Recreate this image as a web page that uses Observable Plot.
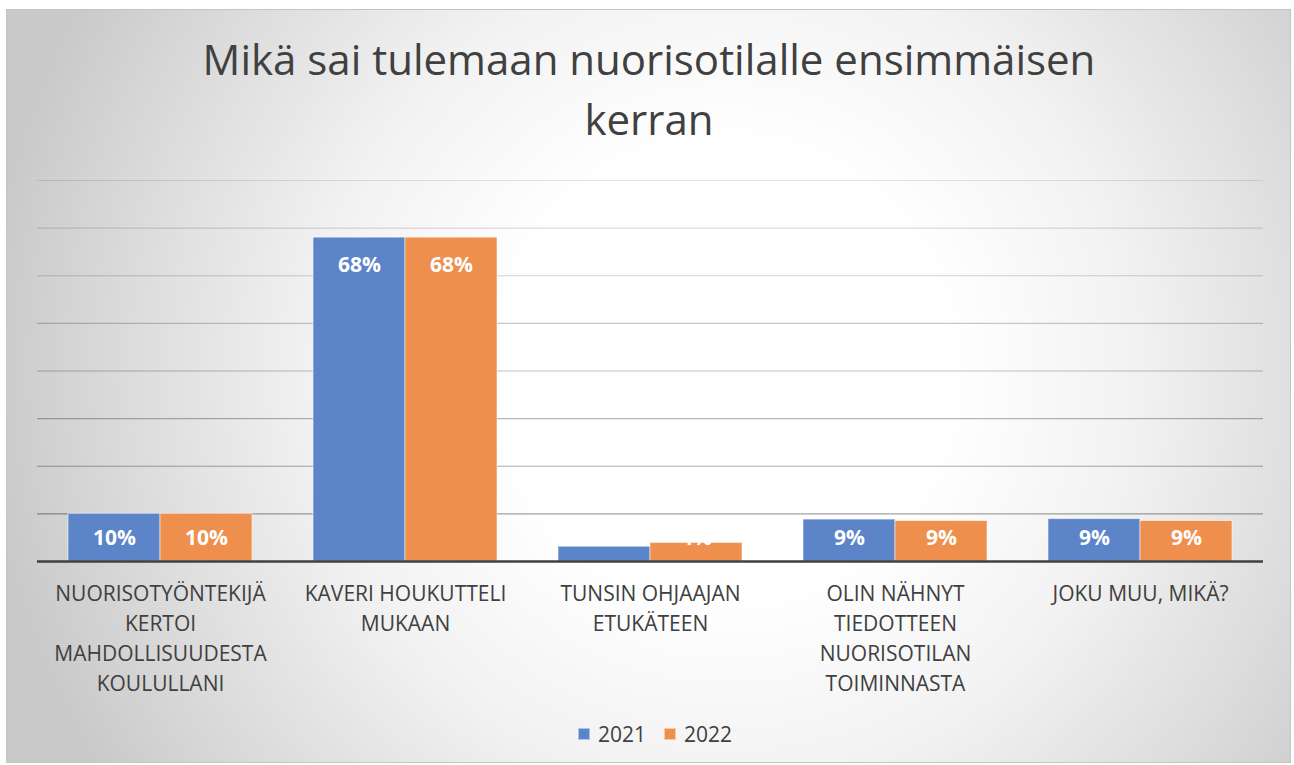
<!DOCTYPE html>
<html>
<head>
<meta charset="utf-8">
<script src="https://cdn.jsdelivr.net/npm/d3@7"></script>
<script src="https://cdn.jsdelivr.net/npm/@observablehq/plot@0.6"></script>
<style>
  html, body { margin: 0; padding: 0; }
  body { width: 1294px; height: 765px; position: relative; overflow: hidden; background: #ffffff; font-family: "Open Sans", sans-serif; }
  #frame { position: absolute; left: 6px; top: 9px; width: 1285px; height: 754px; box-sizing: border-box; border: 1px solid #c4c4c4;
    background: radial-gradient(ellipse 58% 100% at 56% 48%, #ffffff 0%, #ffffff 30%, #f2f2f2 55%, #dcdcdc 80%, #c9c9c9 100%); }
  #title { position: absolute; left: 2px; top: 29px; width: 1294px; text-align: center; font-size: 42px; line-height: 60px; color: #404040; }
  .layer { position: absolute; left: 0; top: 150px; }
  #legend { position: absolute; left: 8px; top: 720px; width: 1294px; height: 28px; display: flex; justify-content: center; align-items: center; font-size: 21px; color: #404040; }
  .item { display: flex; align-items: center; margin: 0 9px; }
  .sw { width: 12px; height: 12px; margin-right: 8px; box-sizing: border-box; border: 1px solid rgba(255,255,255,0.5); }
</style>
</head>
<body>
<div id="frame"></div>
<div id="title">Mikä sai tulemaan nuorisotilalle ensimmäisen<br>kerran</div>
<div id="grid" class="layer"></div>
<div id="chart" class="layer"></div>
<div id="legend"></div>
<script>
const categories = [
  "Nuorisotyöntekijä kertoi mahdollisuudesta koulullani",
  "Kaveri houkutteli mukaan",
  "Tunsin ohjaajan etukäteen",
  "Olin nähnyt tiedotteen nuorisotilan toiminnasta",
  "Joku muu, mikä?"
];
const categoryLabels = [
  "NUORISOTYÖNTEKIJÄ\nKERTOI\nMAHDOLLISUUDESTA\nKOULULLANI",
  "KAVERI HOUKUTTELI\nMUKAAN",
  "TUNSIN OHJAAJAN\nETUKÄTEEN",
  "OLIN NÄHNYT\nTIEDOTTEEN\nNUORISOTILAN\nTOIMINNASTA",
  "JOKU MUU, MIKÄ?"
];
const years = ["2021", "2022"];
const values2021 = [10, 68, 3.1, 8.8, 8.9];
const values2022 = [10, 68, 3.9, 8.5, 8.5];
const colors = ["#5b84c9", "#ee8f4e"];
const gridTicks = [10, 20, 30, 40, 50, 60, 70, 80];

const data = [];
categories.forEach((c, i) => {
  data.push({category: c, year: years[0], value: values2021[i]});
  data.push({category: c, year: years[1], value: values2022[i]});
});
const labelRows = categories.map((c, i) => ({category: c, label: categoryLabels[i]}));

const common = {
  width: 1294,
  height: 560,
  marginLeft: 37,
  marginRight: 31,
  marginTop: 30,
  marginBottom: 149,
  style: {background: "transparent", fontFamily: "Open Sans, sans-serif", overflow: "visible"},
  y: {domain: [0, 80], axis: null}
};

// Gridlines layer (no facets), same y scale and margins
const grid = Plot.plot({
  ...common,
  opacity: {domain: [0, 80], range: [0.4, 0.1]},
  marks: [
    Plot.ruleY(gridTicks, {y: d => d, stroke: "#000", strokeOpacity: d => d, strokeWidth: 1.2})
  ]
});
document.getElementById("grid").appendChild(grid);

// Bars layer (faceted by category)
const chart = Plot.plot({
  ...common,
  fx: {domain: categories, paddingInner: 0.25, paddingOuter: 0.125, axis: null, label: null},
  x: {domain: years, padding: 0, axis: null},
  color: {domain: years, range: colors},
  marks: [
    Plot.barY(data, {fx: "category", x: "year", y: "value", fill: "year", stroke: "#ffffff", strokeOpacity: 0.55, strokeWidth: 1}),
    Plot.text(data, {fx: "category", x: "year", y: d => Math.max(d.value - 5.8, 4.9), text: d => Math.round(d.value) + "%",
      fill: "#ffffff", fontSize: 21, fontWeight: "bold"}),
    Plot.text(labelRows, {fx: "category", y: () => 0, text: "label", lineAnchor: "top", dy: 18, fontSize: 21, lineHeight: 1.43, fill: "#404040"})
  ]
});
document.getElementById("chart").appendChild(chart);

// Baseline layer on top (no facets)
const base = Plot.plot({
  ...common,
  marks: [Plot.ruleY([0], {stroke: "#404040", strokeWidth: 2.5})]
});
const baseDiv = document.createElement("div");
baseDiv.className = "layer";
baseDiv.appendChild(base);
document.body.insertBefore(baseDiv, document.getElementById("legend"));

const legend = document.getElementById("legend");
years.forEach((y, i) => {
  const item = document.createElement("div");
  item.className = "item";
  const sw = document.createElement("div");
  sw.className = "sw";
  sw.style.background = colors[i];
  const t = document.createElement("span");
  t.textContent = y;
  item.appendChild(sw);
  item.appendChild(t);
  legend.appendChild(item);
});
</script>
</body>
</html>
